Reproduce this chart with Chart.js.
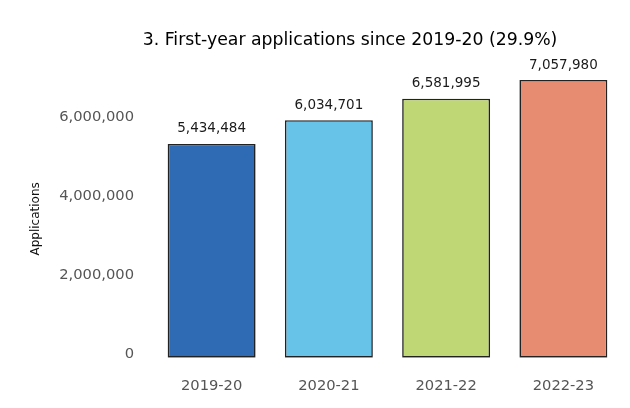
<!DOCTYPE html>
<html>
<head>
<meta charset="utf-8">
<script src="https://cdn.jsdelivr.net/npm/chart.js@4"></script>
<style>
html,body{margin:0;padding:0;background:#fff;}
#wrap{width:630px;height:408px;position:relative;}
</style>
</head>
<body>
<div id="wrap"><canvas id="c" width="630" height="408"></canvas></div>
<script>
const categories = ['2019-20', '2020-21', '2021-22', '2022-23'];
const applications = [5434484, 6034701, 6581995, 7057980];
const barColors = ['#2f6bb5', '#68c3e8', '#bfd775', '#e88c71'];
const yTicks = [0, 2000000, 4000000, 6000000];
const titleText = '3. First-year applications since 2019-20 (29.9%)';
const yTitle = 'Applications';

const FONT = 'DejaVu Sans';
const fmt = v => v.toLocaleString('en-US');

const overlay = {
  id: 'overlay',
  afterDatasetsDraw(chart) {
    const ctx = chart.ctx;
    const meta = chart.getDatasetMeta(0);
    ctx.save();
    ctx.font = '13.5px "' + FONT + '"';
    ctx.fillStyle = '#1a1a1a';
    ctx.textAlign = 'center';
    ctx.textBaseline = 'middle';
    meta.data.forEach((bar, i) => {
      ctx.fillText(fmt(applications[i]), bar.x, bar.y - 15);
    });
    ctx.font = '17.3px "' + FONT + '"';
    ctx.fillStyle = '#000';
    ctx.fillText(titleText, 350, 41);
    ctx.restore();
  }
};

new Chart(document.getElementById('c'), {
  type: 'bar',
  data: {
    labels: categories,
    datasets: [{
      data: applications,
      backgroundColor: barColors,
      borderColor: '#222',
      borderWidth: 1.6,
      borderSkipped: false,
      barPercentage: 0.75,
      categoryPercentage: 1.0
    }]
  },
  options: {
    responsive: false,
    animation: false,
    devicePixelRatio: 1,
    layout: { padding: { top: 80, right: 8, left: 0, bottom: 0 } },
    plugins: {
      legend: { display: false },
      tooltip: { enabled: false },
      title: { display: false }
    },
    scales: {
      x: {
        grid: { display: false, drawTicks: false },
        border: { display: false },
        ticks: { color: '#555', font: { family: FONT, size: 14.7 }, padding: 20 },
        afterFit(s) { s.height = 50.3; }
      },
      y: {
        min: 0,
        max: 7057980,
        grid: { display: false, drawTicks: false },
        border: { display: false },
        afterBuildTicks(s) { s.ticks = yTicks.map(v => ({ value: v })); },
        ticks: {
          color: '#555',
          font: { family: FONT, size: 14.7 },
          padding: 19,
          labelOffset: -4,
          callback: v => fmt(v)
        },
        title: {
          display: true,
          text: yTitle,
          color: '#111',
          font: { family: FONT, size: 12 },
          padding: { top: 29, bottom: 0 }
        },
        afterFit(s) { s.width = 153; }
      }
    }
  },
  plugins: [overlay]
});
</script>
</body>
</html>
